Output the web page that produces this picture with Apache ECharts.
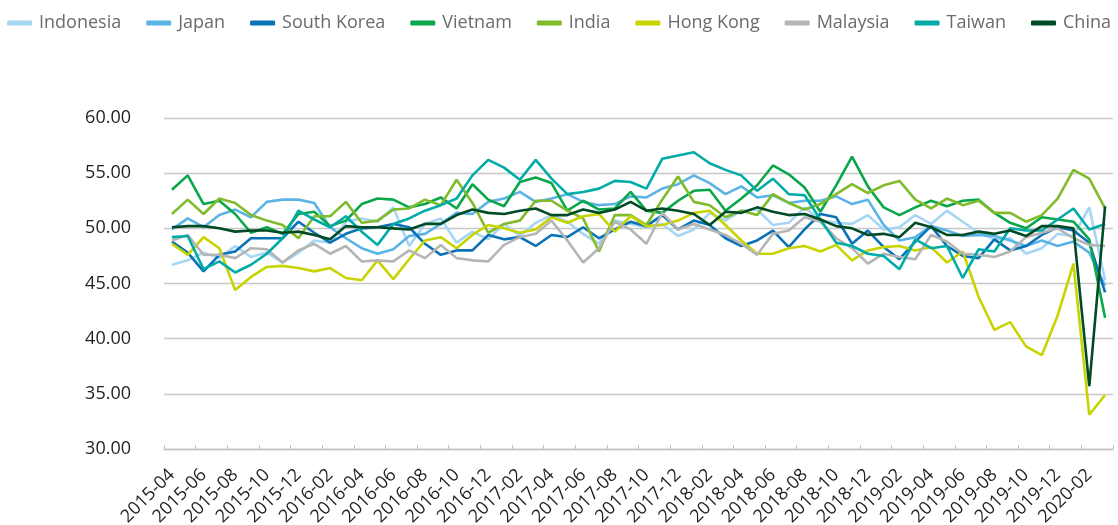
<!DOCTYPE html>
<html>
<head>
<meta charset="utf-8">
<title>PMI</title>
<script src="https://cdn.jsdelivr.net/npm/echarts@6/dist/echarts.min.js"></script>
<style>
  html, body { margin: 0; padding: 0; background: #fff; }
  #chart { width: 1118px; height: 525px; }
</style>
</head>
<body>
<div id="chart"></div>
<script>
// months 2015-04 .. 2020-03
var months = [
  "2015-04","2015-05","2015-06","2015-07","2015-08","2015-09","2015-10","2015-11","2015-12",
  "2016-01","2016-02","2016-03","2016-04","2016-05","2016-06","2016-07","2016-08","2016-09","2016-10","2016-11","2016-12",
  "2017-01","2017-02","2017-03","2017-04","2017-05","2017-06","2017-07","2017-08","2017-09","2017-10","2017-11","2017-12",
  "2018-01","2018-02","2018-03","2018-04","2018-05","2018-06","2018-07","2018-08","2018-09","2018-10","2018-11","2018-12",
  "2019-01","2019-02","2019-03","2019-04","2019-05","2019-06","2019-07","2019-08","2019-09","2019-10","2019-11","2019-12",
  "2020-01","2020-02","2020-03"
];

var indonesia = [46.7,47.1,47.8,47.3,48.4,47.4,47.8,46.9,47.8,48.9, 48.7,50.6,50.9,50.6,51.9,48.4,50.4,50.9,48.7,49.7,
  49.0,50.4,49.3,50.5,51.2,50.6,49.5,48.6,50.7,50.4, 50.1,50.4,49.3,49.9,51.4,50.7,51.6,51.7,50.3,50.5,
  51.9,50.7,50.5,50.4,51.2,49.9,50.1,51.2,50.4,51.6, 50.6,49.6,49.0,49.1,47.7,48.2,49.5,49.3,51.9,45.3];
var japan = [49.9,50.9,50.1,51.2,51.7,51.0,52.4,52.6,52.6,52.3, 50.1,49.1,48.2,47.7,48.1,49.3,49.5,50.4,51.4,51.3,
  52.4,52.7,53.3,52.4,52.7,53.1,52.4,52.1,52.2,52.9, 52.8,53.6,54.0,54.8,54.1,53.1,53.8,52.8,53.0,52.3,
  52.5,52.5,52.9,52.2,52.6,50.3,48.9,49.2,50.2,49.8, 49.3,49.4,49.3,48.9,48.4,48.9,48.4,48.8,47.8,44.8];
var southKorea = [48.8,47.8,46.1,47.6,47.9,49.1,49.1,49.1,50.6,49.6, 48.7,49.5,50.0,50.1,50.4,50.1,48.6,47.6,48.0,48.0,
  49.4,49.0,49.2,48.4,49.4,49.2,50.1,49.1,49.9,50.6, 50.2,51.2,49.9,50.7,50.3,49.1,48.4,48.9,49.8,48.3,
  49.9,51.3,51.0,48.6,49.8,48.3,47.2,48.8,50.2,48.4, 47.5,47.3,49.0,48.0,48.4,49.4,50.1,49.8,48.7,44.2];
var vietnam = [53.5,54.8,52.2,52.5,51.3,49.6,50.1,49.5,51.3,51.5, 50.2,50.7,52.2,52.7,52.6,51.9,52.2,52.8,51.8,54.0,
  52.6,52.0,54.2,54.6,54.1,51.6,52.5,51.7,51.8,53.3, 51.6,51.4,52.5,53.4,53.5,51.6,52.7,53.9,55.7,54.9,
  53.7,51.5,53.9,56.5,53.8,51.9,51.2,51.9,52.5,52.0, 52.5,52.6,51.4,50.5,50.0,51.0,50.8,50.6,49.0,41.9];
var india = [51.3,52.6,51.3,52.7,52.3,51.2,50.7,50.3,49.1,51.1, 51.1,52.4,50.5,50.7,51.7,51.8,52.6,52.1,54.4,52.3,
  49.6,50.4,50.7,52.5,52.5,51.6,50.9,47.9,51.2,51.2, 50.3,52.6,54.7,52.4,52.1,51.0,51.6,51.2,53.1,52.3,
  51.7,52.2,53.1,54.0,53.2,53.9,54.3,52.6,51.8,52.7, 52.1,52.5,51.4,51.4,50.6,51.2,52.7,55.3,54.5,51.8];
var hongKong = [48.6,47.6,49.2,48.2,44.4,45.6,46.5,46.6,46.4,46.1, 46.4,45.5,45.3,47.1,45.4,47.2,48.9,49.2,48.2,49.4,
  50.3,50.0,49.6,49.9,51.0,50.5,51.1,51.3,49.7,51.1, 50.2,50.3,50.7,51.4,51.6,50.3,48.9,47.7,47.7,48.2,
  48.4,47.9,48.5,47.1,48.0,48.3,48.4,48.0,48.3,46.9, 47.9,43.8,40.8,41.5,39.3,38.5,42.1,46.8,33.1,34.9];
var malaysia = [48.9,49.4,47.6,47.6,47.3,48.2,48.1,46.9,48.0,48.6, 47.7,48.4,47.0,47.1,47.0,48.0,47.3,48.5,47.3,47.1,
  47.0,48.5,49.2,49.5,50.7,48.9,46.9,48.2,50.6,49.9, 48.6,51.4,49.9,50.4,49.9,49.4,48.6,47.6,49.5,49.8,
  51.0,50.6,49.1,48.2,46.8,47.7,47.4,47.2,49.4,48.8, 47.7,47.6,47.4,47.9,49.2,49.6,50.0,49.1,48.5,48.4];
var taiwan = [49.2,49.3,46.3,47.0,46.0,46.7,47.7,49.1,51.6,50.8, 50.1,51.1,49.7,48.5,50.4,50.9,51.6,52.1,52.7,54.8,
  56.2,55.5,54.4,56.2,54.5,53.1,53.3,53.6,54.3,54.2, 53.6,56.3,56.6,56.9,55.9,55.3,54.8,53.4,54.5,53.1,
  53.0,50.8,48.7,48.4,47.7,47.5,46.3,49.0,48.2,48.4, 45.5,48.1,47.9,50.0,49.8,49.8,50.8,51.8,49.9,50.4];
var china = [50.1,50.2,50.2,50.0,49.7,49.8,49.8,49.6,49.7,49.4, 49.0,50.2,50.1,50.1,50.0,49.9,50.4,50.4,51.2,51.7,
  51.4,51.3,51.6,51.8,51.2,51.2,51.7,51.4,51.7,52.4, 51.6,51.8,51.6,51.3,50.3,51.5,51.4,51.9,51.5,51.2,
  51.3,50.8,50.2,50.0,49.4,49.5,49.2,50.5,50.1,49.4, 49.4,49.7,49.5,49.8,49.3,50.2,50.2,50.0,35.7,52.0];

var names = ["Indonesia","Japan","South Korea","Vietnam","India","Hong Kong","Malaysia","Taiwan","China"];
var values = [indonesia, japan, southKorea, vietnam, india, hongKong, malaysia, taiwan, china];
var colors = ["#a6d6f4","#5bb4e6","#0a72b6","#0aa64a","#80bb2a","#c8d400","#b5b5b5","#00aba8","#004a26"];

var chart = echarts.init(document.getElementById("chart"));

var series = names.map(function (n, k) {
  return {
    name: n,
    type: "line",
    data: values[k],
    showSymbol: false,
    symbol: "none",
    lineStyle: { width: 2.6, color: colors[k] },
    itemStyle: { color: colors[k] }
  };
});

chart.setOption({
  animation: false,
  textStyle: { fontFamily: "Open Sans" },
  legend: {
    top: 9,
    left: "center",
    icon: "roundRect",
    itemWidth: 25,
    itemHeight: 5,
    itemGap: 25,
    textStyle: { fontFamily: "Open Sans", fontSize: 18, color: "#6b6b6e", padding: [0, 0, 0, 2] },
    data: names
  },
  grid: { left: 164, right: 5, top: 118, bottom: 76, containLabel: false, outerBoundsMode: "none" },
  xAxis: {
    type: "category",
    data: months,
    boundaryGap: true,
    axisLine: { lineStyle: { color: "#c4c4c4", width: 1.3 } },
    axisTick: { show: true, inside: true, length: 4, interval: 1, lineStyle: { color: "#c4c4c4" } },
    axisLabel: { interval: 1, rotate: 45, margin: 23, fontSize: 18, color: "#1f1f1f", fontFamily: "Open Sans" }
  },
  yAxis: {
    type: "value",
    min: 30,
    max: 60,
    interval: 5,
    axisLine: { show: false },
    axisTick: { show: false },
    splitLine: { lineStyle: { color: "#c8c8c8", width: 1.3 } },
    axisLabel: {
      margin: 33,
      fontSize: 18,
      color: "#1f1f1f",
      fontFamily: "Open Sans",
      formatter: function (v) { return v.toFixed(2); }
    }
  },
  series: series
});
</script>
</body>
</html>
